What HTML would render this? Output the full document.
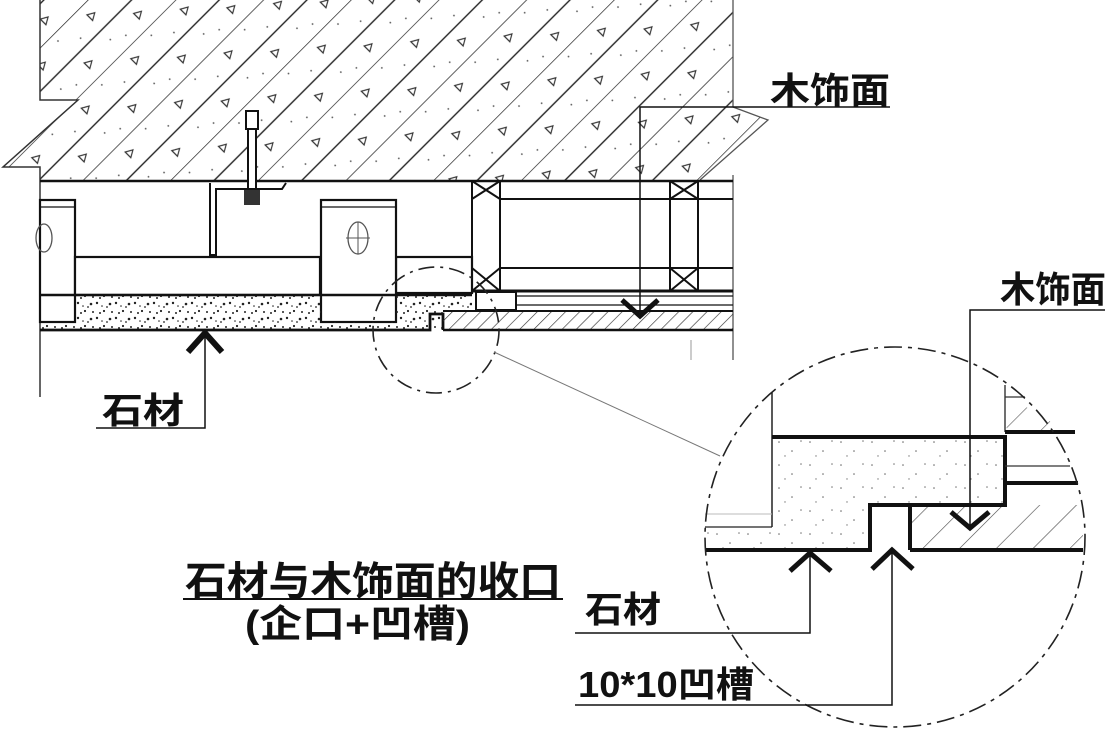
<!DOCTYPE html>
<html><head><meta charset="utf-8"><style>
html,body{margin:0;padding:0;background:#fff;}
svg{display:block;}
text{font-family:"Liberation Sans","Noto Sans CJK SC","WenQuanYi Zen Hei",sans-serif;fill:#111;font-weight:bold;}
</style></head><body>
<svg width="1112" height="729" viewBox="0 0 1112 729" xmlns="http://www.w3.org/2000/svg">
<defs>
<pattern id="hatch" patternUnits="userSpaceOnUse" width="62" height="70" patternTransform="rotate(45)">
<line x1="0" y1="0" x2="0" y2="70" stroke="#222" stroke-width="1.4"/>
<line x1="31" y1="0" x2="31" y2="70" stroke="#222" stroke-width="1.4"/>
<path d="M14 12 l4 7 h-8z M46 48 l4 7 h-8z" fill="none" stroke="#333" stroke-width="1.2"/>
<circle cx="22" cy="40" r="0.9" fill="#555"/><circle cx="8" cy="58" r="0.9" fill="#555"/><circle cx="44" cy="20" r="0.9" fill="#555"/><circle cx="52" cy="6" r="0.9" fill="#555"/>
</pattern>
<pattern id="whatch" patternUnits="userSpaceOnUse" width="10" height="10" patternTransform="rotate(45)">
<line x1="0" y1="0" x2="0" y2="10" stroke="#333" stroke-width="1.3"/>
</pattern>
<pattern id="whatch2" patternUnits="userSpaceOnUse" width="26" height="26" patternTransform="rotate(45)">
<line x1="0" y1="0" x2="0" y2="26" stroke="#444" stroke-width="1.2"/>
</pattern>
<pattern id="speck" patternUnits="userSpaceOnUse" width="19" height="15">
<circle cx="2" cy="3" r="1.2" fill="#222"/><circle cx="9" cy="11" r="1.1" fill="#222"/><circle cx="15" cy="4" r="1.3" fill="#222"/>
<circle cx="17" cy="12" r="1" fill="#222"/><circle cx="5" cy="13" r="1" fill="#222"/><circle cx="12" cy="7" r="0.9" fill="#222"/>
<circle cx="7" cy="6" r="0.8" fill="#222"/>
</pattern>
<pattern id="speck2" patternUnits="userSpaceOnUse" width="31" height="23">
<circle cx="4" cy="5" r="0.8" fill="#666"/><circle cx="17" cy="14" r="0.8" fill="#666"/><circle cx="26" cy="4" r="0.8" fill="#777"/><circle cx="10" cy="19" r="0.7" fill="#777"/>
</pattern>
</defs>

<path d="M40 0 H733 V107 L768 120 L700 181 H40 V167 H3 L78 100 H40 Z" fill="url(#hatch)"/>
<path d="M40 0 V100 H78 L3 167 H40 V397" fill="none" stroke="#333" stroke-width="1.5"/>
<path d="M733 0 V107 L768 120 L700 180 M733 175 V360" fill="none" stroke="#555" stroke-width="1.3"/>
<line x1="40" y1="181" x2="733" y2="181" stroke="#111" stroke-width="2.5"/>

<rect x="246" y="111" width="12" height="18" fill="#fff" stroke="#111" stroke-width="2"/>
<rect x="248" y="129" width="8" height="75" fill="#fff" stroke="#111" stroke-width="2"/>
<rect x="244" y="190" width="16" height="15" fill="#333"/>
<path d="M210 183 V255 H216 V189 H282 L286 183" fill="none" stroke="#111" stroke-width="2"/>

<g fill="#fff" stroke="#111" stroke-width="2.2">
<rect x="40" y="200" width="35" height="122"/>
<rect x="75" y="257" width="245" height="38"/>
<rect x="396" y="257" width="76" height="36"/>
<rect x="321" y="200" width="75" height="122"/>
</g>
<line x1="321" y1="207" x2="396" y2="207" stroke="#111" stroke-width="1.2"/>
<line x1="40" y1="207" x2="75" y2="207" stroke="#111" stroke-width="1.2"/>
<ellipse cx="358" cy="238" rx="10" ry="16" fill="none" stroke="#555" stroke-width="1.3"/>
<path d="M346 238 H370 M358 222 V254" stroke="#555" stroke-width="1"/>
<ellipse cx="44" cy="238" rx="8" ry="14" fill="none" stroke="#555" stroke-width="1.3"/>

<path d="M75 295 H321 V322 H396 V293 H472 V311 H443 V330 H40 V322 H75 Z" fill="url(#speck)"/>
<line x1="40" y1="295" x2="472" y2="295" stroke="#111" stroke-width="2.5"/>
<path d="M40 330 H430 V314 H443 V330" fill="none" stroke="#111" stroke-width="2.8"/>
<line x1="40" y1="322" x2="75" y2="322" stroke="#111" stroke-width="2"/>

<g stroke="#111" stroke-width="2" fill="none">
<rect x="472" y="181" width="28" height="110"/>
<rect x="670" y="181" width="28" height="110"/>
<line x1="500" y1="199" x2="733" y2="199"/>
<line x1="500" y1="268" x2="733" y2="268"/>
<path d="M472 181 L500 199 M500 181 L472 199 M670 181 L698 199 M698 181 L670 199"/>
<path d="M472 268 L500 291 M500 268 L472 291 M670 268 L698 291 M698 268 L670 291"/>
<line x1="472" y1="291" x2="733" y2="291" stroke-width="3"/>
<rect x="476" y="292" width="40" height="18"/>
<line x1="516" y1="296" x2="733" y2="296" stroke-width="1.2"/>
<line x1="516" y1="305" x2="733" y2="305" stroke-width="1.2"/>
</g>
<rect x="443" y="311" width="290" height="19" fill="url(#whatch)"/>
<line x1="443" y1="311" x2="733" y2="311" stroke="#111" stroke-width="2"/>
<line x1="443" y1="330" x2="733" y2="330" stroke="#111" stroke-width="2.5"/>

<path d="M640 316 V107 H890" fill="none" stroke="#111" stroke-width="1.5"/>
<path d="M622 300 L640 316 L658 300" fill="none" stroke="#111" stroke-width="5"/>
<text x="770" y="103" font-size="36" textLength="120" lengthAdjust="spacingAndGlyphs">木饰面</text>

<path d="M188 352 L205 333 L222 352" fill="none" stroke="#111" stroke-width="6"/>
<path d="M205 333 V428 H96" fill="none" stroke="#111" stroke-width="1.5"/>
<text x="102" y="423" font-size="36" textLength="82" lengthAdjust="spacingAndGlyphs">石材</text>

<circle cx="436" cy="330" r="63" fill="none" stroke="#222" stroke-width="1.6" stroke-dasharray="16 6 3 6"/>
<line x1="494" y1="352" x2="720" y2="456" stroke="#777" stroke-width="1"/>

<g>
<path d="M772 437 H1005 V505 H870 V550 H705 V527 H772 Z" fill="url(#speck2)"/>
<rect x="910" y="505" width="173" height="45" fill="url(#whatch2)"/>
<path d="M1005 400 L1040 412 L1070 440 L1075 483 L1010 483 Z" fill="url(#whatch2)" opacity="0.9"/>
<rect x="1005" y="432" width="72" height="51" fill="#fff"/>
<line x1="772" y1="392" x2="772" y2="527" stroke="#222" stroke-width="1.5"/>
<line x1="705" y1="527" x2="772" y2="527" stroke="#222" stroke-width="1.3"/>
<line x1="705" y1="514" x2="772" y2="514" stroke="#bbb" stroke-width="1"/>
<line x1="1005" y1="385" x2="1005" y2="432" stroke="#222" stroke-width="1.3"/>
<path d="M772 437 H1005 V505 H870 V550 H705" fill="none" stroke="#111" stroke-width="4"/>
<path d="M910 550 V505 H870" fill="none" stroke="#111" stroke-width="4"/>
<path d="M910 550 H1083" fill="none" stroke="#111" stroke-width="4"/>
<path d="M1005 432 H1075 M1005 483 H1078" stroke="#111" stroke-width="4"/>
<line x1="1005" y1="466" x2="1070" y2="466" stroke="#333" stroke-width="1.3"/>
<line x1="1005" y1="397" x2="1025" y2="397" stroke="#333" stroke-width="1.3"/>
</g>
<circle cx="895" cy="537" r="190" fill="none" stroke="#222" stroke-width="1.6" stroke-dasharray="18 6 4 6"/>
<line x1="691" y1="340" x2="691" y2="360" stroke="#999" stroke-width="1"/>

<path d="M970 525 V310 H1105" fill="none" stroke="#111" stroke-width="1.5"/>
<path d="M951 512 L970 528 L989 512" fill="none" stroke="#111" stroke-width="5"/>
<text x="1000" y="302" font-size="36" textLength="106" lengthAdjust="spacingAndGlyphs">木饰面</text>

<path d="M790 571 L810 553 L831 571" fill="none" stroke="#111" stroke-width="5"/>
<path d="M810 553 V633 H575" fill="none" stroke="#111" stroke-width="1.5"/>
<text x="585" y="622" font-size="36" textLength="76" lengthAdjust="spacingAndGlyphs">石材</text>

<path d="M872 569 L892 550 L913 569" fill="none" stroke="#111" stroke-width="5"/>
<path d="M892 550 V705 H575" fill="none" stroke="#111" stroke-width="1.5"/>
<text x="578" y="697" font-size="36" textLength="176" lengthAdjust="spacingAndGlyphs">10*10凹槽</text>

<text x="185" y="595" font-size="40" textLength="376" lengthAdjust="spacingAndGlyphs">石材与木饰面的收口</text>
<line x1="183" y1="599" x2="563" y2="599" stroke="#111" stroke-width="2"/>
<text x="245" y="637" font-size="38" textLength="225" lengthAdjust="spacingAndGlyphs">(企口+凹槽)</text>
</svg>
</body></html>
